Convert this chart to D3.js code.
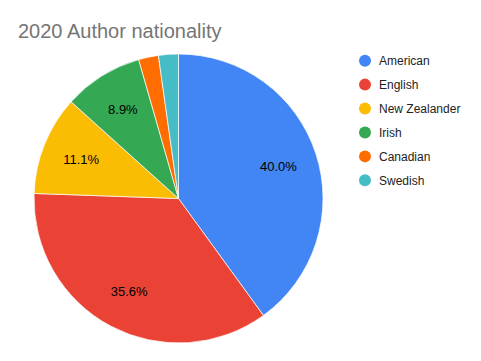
<!DOCTYPE html>
<html><head><meta charset="utf-8">
<script src="https://cdn.jsdelivr.net/npm/d3@7"></script>
<style>body{margin:0;background:#fff;}svg{display:block;font-family:Arial,"Liberation Sans",sans-serif;}</style>
</head><body>
<svg id="c" width="481" height="361"></svg>
<script>
const categories = ["American","English","New Zealander","Irish","Canadian","Swedish"];
const values = [18,16,5,4,1,1];
const colors = ["#4285f4","#ea4335","#fbbc04","#34a853","#ff6d01","#46bdc6"];
const title = "2020 Author nationality";

const svg = d3.select("#c");
svg.append("rect").attr("width",481).attr("height",361).attr("fill","#fff");
svg.append("text").attr("x",18).attr("y",38).attr("font-size",20).attr("fill","#757575").text(title);

const cx = 178.5, cy = 198.5, R = 144.5;
const data = categories.map((c,i)=>({c, v: values[i], col: colors[i]}));
const total = d3.sum(values);
const pie = d3.pie().value(d=>d.v).sort(null);
const arc = d3.arc().innerRadius(0).outerRadius(R);
const labelArc = d3.arc().innerRadius(105).outerRadius(105);
const g = svg.append("g").attr("transform",`translate(${cx},${cy})`);
const arcs = pie(data);
g.selectAll("path").data(arcs).join("path")
  .attr("d",arc).attr("fill",d=>d.data.col).attr("stroke","#fff").attr("stroke-width",0.7);
g.selectAll("text").data(arcs.filter(d=>d.data.v/total>0.05)).join("text")
  .attr("transform",d=>`translate(${labelArc.centroid(d)})`)
  .attr("text-anchor","middle").attr("dy","0.35em").attr("font-size",13).attr("fill","#000")
  .text(d=>(d.data.v/total*100).toFixed(1)+"%");

const lg = svg.append("g");
const ly = d3.scalePoint().domain(categories).range([60.7,180.3]);
categories.forEach((c,i)=>{
  lg.append("circle").attr("cx",365).attr("cy",ly(c)).attr("r",6).attr("fill",colors[i]);
  lg.append("text").attr("x",379).attr("y",ly(c)).attr("dy","0.35em").attr("font-size",12).attr("fill","#222").text(c);
});
</script>
</body></html>
